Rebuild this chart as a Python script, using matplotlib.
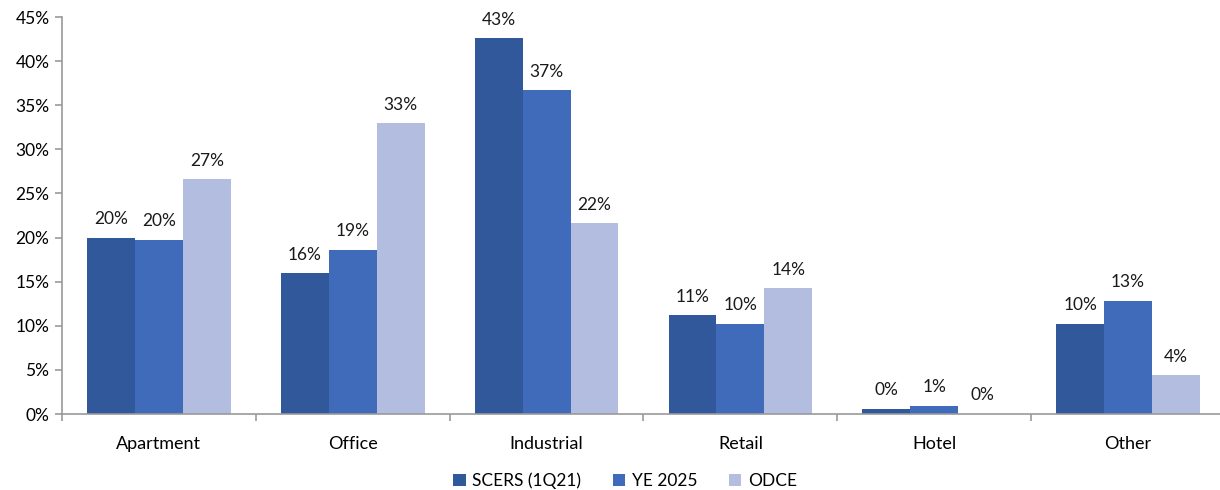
import matplotlib
matplotlib.use("Agg")
import matplotlib.pyplot as plt
import numpy as np
from matplotlib.ticker import FuncFormatter, MultipleLocator, FixedLocator

plt.rcParams['font.family'] = ['Lato', 'DejaVu Sans']

categories = ["Apartment", "Office", "Industrial", "Retail", "Hotel", "Other"]
series_names = ["SCERS (1Q21)", "YE 2025", "ODCE"]
scers = [19.95, 15.95, 42.6, 11.2, 0.6, 10.25]
ye2025 = [19.75, 18.6, 36.7, 10.25, 0.9, 12.8]
odce = [26.6, 32.95, 21.6, 14.25, 0.0, 4.4]
labels_scers = ["20%", "16%", "43%", "11%", "0%", "10%"]
labels_ye = ["20%", "19%", "37%", "10%", "1%", "13%"]
labels_odce = ["27%", "33%", "22%", "14%", "0%", "4%"]
colors = ["#30589A", "#3F6BBA", "#B3BDE0"]

fig = plt.figure(figsize=(12.2, 4.9), dpi=100)
ax = fig.add_axes([62/1220, 1-414/490, (1225-62)/1220, (414-17)/490])

x = np.arange(len(categories))
w = 0.247
all_series = [scers, ye2025, odce]
all_labels = [labels_scers, labels_ye, labels_odce]
for i, (vals, labs, c, name) in enumerate(zip(all_series, all_labels, colors, series_names)):
    pos = x + (i - 1) * w
    ax.bar(pos, vals, width=w, color=c, label=name, edgecolor='none')
    for p, v, l in zip(pos, vals, labs):
        ax.text(p, v + 1.2, l, ha='center', va='bottom', fontsize=12.5, color='#1a1a1a')

ax.set_xlim(-0.5, len(categories) - 0.5)
ax.set_ylim(0, 45)
ax.yaxis.set_major_locator(MultipleLocator(5))
ax.yaxis.set_major_formatter(FuncFormatter(lambda v, p: f"{int(round(v))}%"))
ax.set_xticks(x)
ax.set_xticklabels(categories)
ax.xaxis.set_minor_locator(FixedLocator(np.arange(-0.5, len(categories), 1.0)))
ax.tick_params(axis='x', which='major', length=0, pad=16, labelsize=13)
ax.tick_params(axis='x', which='minor', length=5, color='#999999', width=1.2)
ax.tick_params(axis='y', length=5, color='#999999', width=1.2, labelsize=12.5, pad=4)
for s in ['top', 'right']:
    ax.spines[s].set_visible(False)
for s in ['left', 'bottom']:
    ax.spines[s].set_color('#999999')
    ax.spines[s].set_linewidth(1.2)

fig.legend(loc='center', bbox_to_anchor=(625/1220, 1-481/490), ncol=3, frameon=False,
           fontsize=12.5, handlelength=0.7, handleheight=0.7, handletextpad=0.4, columnspacing=1.8)

fig.savefig("out.png", dpi=100)
